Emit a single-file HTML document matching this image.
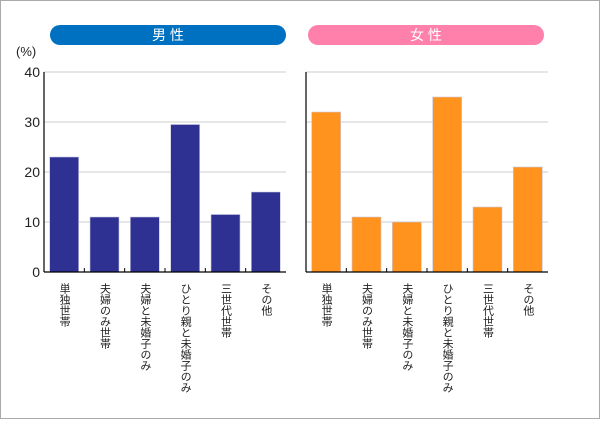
<!DOCTYPE html>
<html><head><meta charset="utf-8"><style>
body{margin:0;background:#fff}
svg text{font-family:"Liberation Sans","Noto Sans CJK JP",sans-serif}
</style></head><body>
<svg width="600" height="419" viewBox="0 0 600 419">
<rect x="0.5" y="0.5" width="599" height="418" fill="#fff" stroke="#aaa"/>
<g id="root"></g>
</svg>
<script>
const categories=["単独世帯","夫婦のみ世帯","夫婦と未婚子のみ","ひとり親と未婚子のみ","三世代世帯","その他"];
const maleValues=[23,11,11,29.5,11.5,16];
const femaleValues=[32,11,10,35,13,21];
const yTicks=[0,10,20,30,40];
const NS="http://www.w3.org/2000/svg";
const root=document.getElementById('root');
function mk(tag,attrs,parent){const e=document.createElementNS(NS,tag);for(const k in attrs)e.setAttribute(k,attrs[k]);(parent||root).appendChild(e);return e;}
const y0=272,yTop=72,yMax=40;
function yS(v){return y0-(v/yMax)*(y0-yTop);}
function panel(axisX,endX,values,color,pillColor,title,name,showYLabels){
  const g=mk('g',{});
  
  
  const pill=mk('rect',{x:axisX+(showYLabels?6:2),y:25,width:236,height:20,rx:10,fill:pillColor},g);
  
  
  const pt=mk('text',{x:axisX+(showYLabels?124:120),y:40,'text-anchor':'middle',fill:'#fff','font-size':14},g);
  pt.textContent=title;
  
  
  yTicks.forEach(t=>{
    if(t>0){const l=mk('line',{x1:axisX,x2:endX,y1:yS(t),y2:yS(t),stroke:'#ccc'},g);
    
    }
    if(showYLabels){const tx=mk('text',{x:axisX-4,y:yS(t)+5,'text-anchor':'end','font-size':14,fill:'#222'},g);
    tx.textContent=t;
    
    }
  });
  const n=categories.length, step=(endX-axisX)/n, bw=29;
  values.forEach((v,i)=>{
    const cx=axisX+step*(i+0.5);
    const b=mk('rect',{x:cx-bw/2,y:yS(v),width:bw,height:y0-yS(v),fill:color,stroke:'#c8c8e0','stroke-width':0.6},g);
    
    
    const lt=mk('text',{x:cx,y:283,'font-size':11,fill:'#222','writing-mode':'tb','glyph-orientation-vertical':0},g);
    lt.textContent=categories[i];
    
    
    if(i>0){const tk=mk('line',{x1:axisX+step*i,x2:axisX+step*i,y1:y0,y2:y0-4,stroke:'#000'},g);
    
    }
  });
  const ya=mk('line',{x1:axisX,x2:axisX,y1:yTop,y2:y0,stroke:'#000','stroke-width':1.2},g);
  
  
  const xa=mk('line',{x1:axisX,x2:endX,y1:y0,y2:y0,stroke:'#000','stroke-width':1.2},g);
  
  
}
panel(44,286,maleValues,'#2e3192','#0070c0','男 性','male',true);
panel(306,548,femaleValues,'#ff931e','#ff80ab','女 性','female',false);
const u=mk('text',{x:16,y:56,'font-size':13,fill:'#222'});
u.textContent='(%)';


</script>
</body></html>
